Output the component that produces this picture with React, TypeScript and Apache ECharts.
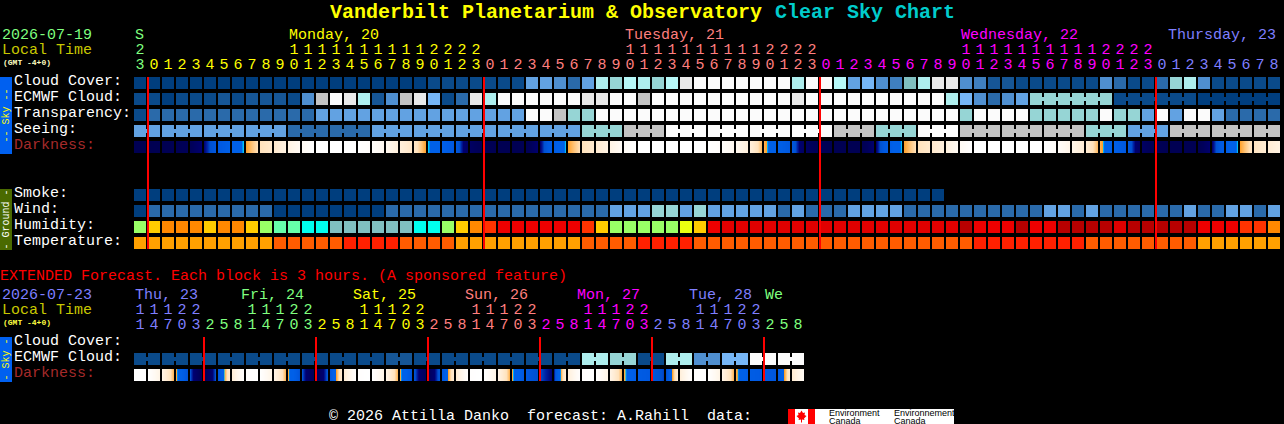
import React, { useEffect, useRef } from "react";
import * as echarts from "echarts";

// ---- Data ----
const mainRows = ["Cloud Cover:", "ECMWF Cloud:", "Transparency:", "Seeing:", "Darkness:", "", "", "Smoke:", "Wind:", "Humidity:", "Temperature:"];
const extendedRows = ["Cloud Cover:", "ECMWF Cloud:", "Darkness:"];

const mainUnits = "3012345678901234567890123012345678901234567890123012345678901234567890123012345678".split("");
const mainTens = "2          11111111112222          11111111112222          11111111112222         ".split("");
const extendedUnits = "147032581470325814703258147032581470325814703258".split("");
const extendedTens = "11122   11122   11122   11122   11122   11122   ".split("");

const mainDayCounts = [1, 24, 24, 24, 9];
const extendedDayCounts = [5, 8, 8, 8, 8, 8, 3];

const mainDayLabels = ["S", "Monday, 20", "Tuesday, 21", "Wednesday, 22", "Thursday, 23"];
const extendedDayLabels = ["Thu, 23", "Fri, 24", "Sat, 25", "Sun, 26", "Mon, 27", "Tue, 28", "We"];

const mainMidnights = [1, 25, 49, 73];
const extendedMidnights = [5, 13, 21, 29, 37, 45];

const cloudCover = [
  0, 0, 0, 0, 0, 0, 0, 0, 0, 0,
  0, 0, 0, 0, 0, 0, 0, 0, 0, 0,
  0, 1, 1, 1, 1, 1, 1, 1, 6, 6,
  5, 3, 6, 9, 10, 8, 9, 10, 8, 13,
  14, 14, 14, 14, 14, 14, 14, 9, 14, 14,
  8, 6, 7, 5, 4, 11, 9, 13, 13, 5,
  4, 2, 2, 1, 1, 1, 1, 1, 1, 5,
  3, 1, 1, 3, 10, 9, 5, 1, 1, 1,
  1, 1,
];
const ecmwfCloud = [
  1, 1, 0, 1, 1, 1, 2, 1, 2, 2,
  2, 1, 5, 12, 14, 13, 9, 2, 5, 12,
  13, 7, 1, 3, 13, 9, 14, 14, 14, 14,
  14, 14, 13, 13, 14, 14, 12, 14, 14, 14,
  14, 14, 14, 14, 14, 14, 14, 13, 14, 14,
  14, 14, 14, 14, 14, 14, 14, 14, 9, 7,
  5, 3, 5, 6, 10, 10, 10, 10, 10, 10,
  1, 1, 1, 1, 1, 1, 0, 0, 0, 0,
  0, 0,
];
const transparency = [
  1, 3, 3, 3, 3, 3, 3, 3, 3, 3,
  3, 3, 3, 6, 6, 6, 6, 6, 6, 6,
  6, 6, 6, 6, 6, 6, 6, 6, 14, 14,
  12, 10, 10, 14, 14, 14, 14, 14, 14, 14,
  14, 14, 14, 14, 14, 14, 14, 14, 14, 14,
  14, 14, 14, 14, 14, 14, 14, 14, 14, 10,
  14, 14, 14, 14, 10, 10, 10, 10, 10, 14,
  10, 10, 6, 14, 6, 14, 14, 6, 3, 3,
  3, 3,
];
const seeing = [
  6, 6, 6, 6, 6, 6, 6, 6, 6, 6,
  6, 3, 3, 3, 3, 3, 3, 6, 6, 6,
  6, 6, 6, 6, 6, 6, 6, 6, 6, 6,
  6, 6, 10, 10, 10, 12, 12, 12, 14, 14,
  14, 14, 14, 14, 14, 14, 14, 14, 14, 14,
  12, 12, 12, 10, 10, 10, 14, 14, 14, 12,
  12, 12, 12, 12, 12, 12, 12, 12, 10, 10,
  10, 6, 6, 6, 12, 12, 12, 12, 12, 12,
  12, 12,
];
const darknessEdges = [
  0.3, 0.2, 0.3, 0.5, 0.8, 2, 3, 4, 5, 6,
  6.7, 7.8, 9, 10, 10, 10, 10, 9.6, 8.6, 7.4,
  6.4, 5, 4, 3, 1.4, 0.6, 0.3, 0.3, 0.4, 1.9,
  3.6, 5, 6, 6.8, 7.9, 9.2, 10, 10, 10, 10,
  10, 10, 9.6, 8.6, 7.4, 5.3, 4, 3, 1.4, 0.6,
  0.3, 0.3, 0.3, 1.9, 3.6, 5, 6, 6.7, 7.5, 9,
  10, 10, 10, 10, 10, 10, 9.4, 8.2, 7, 5.3,
  4, 3, 1.4, 0.6, 0.3, 0.3, 0.3, 1.9, 3.6, 5,
  6.2, 7, 7.8,
];
const smoke = [
  0, 0, 0, 0, 0, 0, 0, 0, 0, 0,
  0, 0, 0, 0, 0, 0, 0, 0, 0, 0,
  0, 0, 0, 0, 0, 0, 0, 0, 0, 0,
  0, 0, 0, 0, 0, 0, 0, 0, 0, 0,
  0, 0, 0, 0, 0, 0, 0, 0, 0, 0,
  0, 0, 0, 0, 0, 0, 0, 0,
];
const wind = [
  0, 3, 3, 3, 3, 3, 3, 3, 3, 3,
  0, 0, 0, 0, 0, 0, 0, 0, 3, 3,
  3, 3, 3, 3, 3, 3, 3, 3, 3, 3,
  3, 3, 3, 3, 6, 6, 6, 10, 10, 6,
  10, 6, 6, 6, 6, 6, 3, 6, 3, 3,
  3, 6, 6, 6, 6, 3, 3, 3, 3, 3,
  3, 3, 3, 3, 3, 6, 6, 3, 6, 3,
  3, 3, 3, 3, 3, 6, 3, 3, 6, 6,
  3, 6,
];
const humidity = [
  0, 1, 2, 2, 2, 1, 2, 2, 1, 0,
  3, 3, 4, 4, 5, 5, 5, 5, 5, 5,
  4, 4, 0, 1, 2, 7, 8, 8, 8, 8,
  8, 8, 7, 1, 0, 0, 0, 0, 0, 6,
  1, 8, 9, 9, 9, 9, 9, 9, 9, 9,
  9, 9, 9, 9, 9, 9, 9, 9, 9, 10,
  8, 8, 8, 10, 8, 8, 10, 10, 10, 10,
  9, 10, 10, 10, 10, 10, 8, 8, 8, 7,
  7, 2,
];
const temperature = [
  0, 0, 0, 0, 0, 0, 0, 0, 0, 0,
  1, 1, 1, 1, 1, 2, 2, 2, 2, 1,
  1, 1, 1, 0, 0, 0, 0, 0, 0, 0,
  0, 0, 1, 1, 1, 1, 2, 2, 2, 2,
  1, 1, 1, 1, 1, 1, 1, 1, 1, 1,
  1, 1, 1, 1, 1, 1, 1, 1, 1, 1,
  2, 2, 2, 2, 2, 2, 2, 2, 1, 1,
  1, 1, 1, 1, 1, 1, 0, 0, 0, 0,
  0, 0,
];
const extendedEcmwf = [
  1, 1, 1, 1, 1, 1, 1, 1, 1, 1,
  1, 1, 1, 1, 1, 1, 1, 1, 2, 2,
  1, 1, 1, 1, 1, 1, 1, 1, 1, 1,
  1, 1, 9, 9, 10, 10, 1, 1, 9, 9,
  5, 5, 7, 7, 14, 14, 14, 14,
];
const extendedDarknessEdges = [
  10, 10, 8, 5.2, 2.6, 0.6, 2.6, 7, 9.8, 10,
  8, 5.2, 2.6, 0.8, 2.7, 7, 9.8, 10, 8, 5.2,
  2.7, 1, 2.8, 7, 9.8, 10, 8, 5.2, 3, 2.5,
  2, 7.3, 9.8, 10, 8, 5.2, 3.5, 3, 2.4, 7.3,
  9.8, 10, 8, 5.2, 3.6, 3.2, 2.9, 6.8, 9,
];

// Blocks joined by a thin bridge: sizes of the consecutive joined runs.
const seeingRuns = [2, 3, 3, 3, 3, 3, 3, 3, 3, 3, 3, 3, 3, 3, 3, 3, 3, 3, 3, 3, 3, 3, 3, 3, 3, 3, 3, 2];
const ecmwfJoinedRuns = [6, 6, 6];
const extendedEcmwfRuns = [2, 2, 2, 2, 2, 2, 2, 2, 2, 2, 2, 2, 2, 2, 2, 2, 2, 2, 2, 2, 2, 2, 2, 2];

// ---- Styles ----
const skyPalette = [
  "#003e7e", "#0a4a8a", "#165696", "#2a6aaa", "#3f7fbf", "#4f8fd0", "#62a2e2", "#76b6f6",
  "#b6f8f8", "#aeeeee", "#96d5d5", "#80c0c0", "#c3c3c3", "#e9e9e9", "#fbfbfb",
];
const humidityPalette = [
  "#99ff66", "#ffcc00", "#ff8800", "#66ffaa", "#00ffee", "#80c0c0",
  "#eaff10", "#ff3300", "#ee0000", "#e00000", "#b80000",
];
const temperaturePalette = ["#ffa000", "#ff5c00", "#ff2000"];
const darknessScale: [number, string][] = [
  [0, "#000050"], [1, "#00005a"], [2, "#000070"], [2.25, "#0020a0"], [2.5, "#0050d0"],
  [3, "#0058e0"], [4, "#0060e8"], [4.8, "#0060e8"], [4.97, "#00d0ff"], [5, "#ffa028"],
  [5.5, "#ffc478"], [6, "#ffe2bc"], [7, "#ffecd4"], [8, "#fff4e6"], [9, "#fffaf4"], [10, "#ffffff"],
];
const GREEN = "#7fff7f", YELLOW = "#ffff00", SALMON = "#ff7f7f", MAGENTA = "#ff00ff", BLUE = "#7f7fff";
const mainDayColors = [GREEN, YELLOW, SALMON, MAGENTA, BLUE];
const extendedDayColors = [BLUE, GREEN, YELLOW, SALMON, MAGENTA, BLUE, GREEN];
const MONO = '"Liberation Mono"';
const BLOCK = 12;

function hexToRgb(h: string) {
  return [parseInt(h.slice(1, 3), 16), parseInt(h.slice(3, 5), 16), parseInt(h.slice(5, 7), 16)];
}
function darknessColor(v: number) {
  let k = 0;
  while (k < darknessScale.length - 2 && v > darknessScale[k + 1][0]) k++;
  const [v0, c0] = darknessScale[k];
  const [v1, c1] = darknessScale[k + 1];
  const t = Math.max(0, Math.min(1, (v - v0) / (v1 - v0)));
  const a = hexToRgb(c0), b = hexToRgb(c1);
  return `rgb(${a.map((x, i) => Math.round(x + (b[i] - x) * t)).join(",")})`;
}
function runsToJoins(runs: number[], start = 0) {
  const joins = new Set<number>();
  let at = start;
  runs.forEach((r) => {
    for (let i = 0; i < r - 1; i++) joins.add(at + i);
    at += r;
  });
  return joins;
}
function blockSeries(xAxisIndex: number, yAxisIndex: number, row: number, values: number[], palette: string[], joins?: Set<number>) {
  return {
    type: "custom",
    xAxisIndex,
    yAxisIndex,
    encode: { x: 0, y: 1 },
    silent: true,
    data: values.map((v, i) => [i, row, v, joins && joins.has(i) ? 1 : 0]),
    renderItem: (_p: any, api: any) => {
      const [cx, cy] = api.coord([api.value(0), api.value(1)]);
      const [bw] = api.size([1, 1]);
      const x = Math.round(cx - BLOCK / 2);
      const y = Math.round(cy - BLOCK / 2);
      const fill = palette[api.value(2)];
      const children: any[] = [{ type: "rect", shape: { x, y, width: BLOCK, height: BLOCK }, style: { fill } }];
      if (api.value(3)) {
        children.push({ type: "rect", shape: { x: x + BLOCK, y: y + 4, width: bw - BLOCK, height: 4 }, style: { fill } });
      }
      return { type: "group", children };
    },
  };
}
function darknessSeries(xAxisIndex: number, yAxisIndex: number, row: number, edges: number[]) {
  return {
    type: "custom",
    xAxisIndex,
    yAxisIndex,
    encode: { x: 0, y: 1 },
    silent: true,
    data: edges.slice(0, -1).map((v, i) => [i, row, v, edges[i + 1]]),
    renderItem: (_p: any, api: any) => {
      const [cx, cy] = api.coord([api.value(0), api.value(1)]);
      const from = api.value(2), to = api.value(3);
      const stops: any[] = [];
      const n = 24;
      for (let k = 0; k <= n; k++) {
        const t = k / n;
        stops.push({ offset: t, color: darknessColor(from + (to - from) * (0.005 + 0.99 * t)) });
      }
      return {
        type: "rect",
        shape: { x: Math.round(cx - BLOCK / 2), y: Math.round(cy - BLOCK / 2), width: BLOCK, height: BLOCK },
        style: { fill: new echarts.graphic.LinearGradient(0, 0, 1, 0, stops) },
      };
    },
  };
}
function midnightSeries(xAxisIndex: number, yAxisIndex: number, hours: number[], lastRow: number) {
  return {
    type: "custom",
    xAxisIndex,
    yAxisIndex,
    encode: { x: 0, y: 1 },
    silent: true,
    z: 5,
    data: hours.map((h) => [h, 0]),
    renderItem: (_p: any, api: any) => {
      const [cx, top] = api.coord([api.value(0), 0]);
      const bottom = api.coord([api.value(0), lastRow])[1];
      const [bw] = api.size([1, 1]);
      return {
        type: "rect",
        shape: { x: Math.round(cx - bw / 2), y: Math.round(top - BLOCK / 2), width: 2, height: bottom - top + BLOCK },
        style: { fill: "#ff0000" },
      };
    },
  };
}
function coloured(labels: string[], counts: number[], colors: string[]) {
  const out: any[] = [];
  counts.forEach((c, d) => {
    for (let i = 0; i < c; i++) {
      const at = out.length;
      out.push({ value: labels[at], textStyle: { color: colors[d], verticalAlign: "middle" } });
    }
  });
  return out;
}
function hourAxis(gridIndex: number, labels: string[], counts: number[], colors: string[], margin: number) {
  return {
    type: "category",
    gridIndex,
    position: "top",
    offset: 0,
    data: coloured(labels, counts, colors),
    axisLine: { show: false },
    axisTick: { show: false },
    splitLine: { show: false },
    axisLabel: { show: true, interval: 0, margin, verticalAlign: "middle", fontFamily: MONO, fontSize: 15 },
  };
}
function rowAxis(gridIndex: number, rows: string[]) {
  return {
    type: "category",
    gridIndex,
    inverse: true,
    data: rows.map((r) => ({
      value: r,
      textStyle: { color: r === "Darkness:" ? "#a52a2a" : "#ffffff", align: "left", verticalAlign: "bottom", lineHeight: 4 },
    })),
    axisLine: { show: false },
    axisTick: { show: false },
    splitLine: { show: false },
    axisLabel: { show: true, interval: 0, margin: 119, align: "left", verticalAlign: "bottom", lineHeight: 4, fontFamily: MONO, fontSize: 15 },
  };
}
function txt(x: number, y: number, text: string, fill: string, font = `15px ${MONO}`) {
  return { type: "text", x, y, silent: true, style: { text, fill, font, verticalAlign: "middle" } };
}
function sideBar(y: number, height: number, fill: string, text: string, textFill: string) {
  return [
    { type: "rect", silent: true, shape: { x: 0, y, width: 12, height }, style: { fill } },
    {
      type: "text", silent: true, x: 6, y: y + height / 2, rotation: Math.PI / 2,
      style: { text, fill: textFill, font: `10px ${MONO}`, align: "center", verticalAlign: "middle" },
    },
  ];
}

const mainDayX = [135, 289, 625, 961, 1168];
const extendedDayX = [135, 241, 353, 465, 577, 689, 765];

function buildOption() {
  const seeingJoins = runsToJoins(seeingRuns);
  const ecmwfJoins = runsToJoins(ecmwfJoinedRuns, 64);
  const extJoins = runsToJoins(extendedEcmwfRuns);
  return {
    animation: false,
    backgroundColor: "#000000",
    tooltip: { show: false },
    grid: [
      { left: 133, top: 75, width: 1148, height: 176, containLabel: false, outerBoundsMode: "none" },
      { left: 133, top: 335, width: 672, height: 48, containLabel: false, outerBoundsMode: "none" },
    ],
    xAxis: [
      hourAxis(0, mainUnits, mainDayCounts, mainDayColors, 10),
      hourAxis(0, mainTens, mainDayCounts, mainDayColors, 25),
      hourAxis(1, extendedUnits, extendedDayCounts, extendedDayColors, 10),
      hourAxis(1, extendedTens, extendedDayCounts, extendedDayColors, 25),
    ],
    yAxis: [rowAxis(0, mainRows), rowAxis(1, extendedRows)],
    series: [
      blockSeries(0, 0, 0, cloudCover, skyPalette),
      blockSeries(0, 0, 1, ecmwfCloud, skyPalette, ecmwfJoins),
      blockSeries(0, 0, 2, transparency, skyPalette),
      blockSeries(0, 0, 3, seeing, skyPalette, seeingJoins),
      darknessSeries(0, 0, 4, darknessEdges),
      blockSeries(0, 0, 7, smoke, skyPalette),
      blockSeries(0, 0, 8, wind, skyPalette),
      blockSeries(0, 0, 9, humidity, humidityPalette),
      blockSeries(0, 0, 10, temperature, temperaturePalette),
      midnightSeries(0, 0, mainMidnights, 10),
      blockSeries(2, 1, 1, extendedEcmwf, skyPalette, extJoins),
      darknessSeries(2, 1, 2, extendedDarknessEdges),
      midnightSeries(2, 1, extendedMidnights, 2),
    ],
    graphic: {
      elements: [
        txt(330, 12, "Vanderbilt Planetarium & Observatory", "#ffff00", `bold 20px ${MONO}`),
        txt(775, 12, "Clear Sky Chart", "#00cccc", `bold 20px ${MONO}`),
        txt(2, 35, "2026-07-19", GREEN),
        txt(2, 50, "Local Time", "#c8c800"),
        txt(3, 62, "(GMT -4+0)", "#ffffc0", `bold 8px ${MONO}`),
        ...mainDayLabels.map((d, i) => txt(mainDayX[i], 35, d, mainDayColors[i])),
        txt(0, 276, "EXTENDED Forecast. Each block is 3 hours. (A sponsored feature)", "#ff0000"),
        txt(2, 295, "2026-07-23", BLUE),
        txt(2, 310, "Local Time", "#c8c800"),
        txt(3, 322, "(GMT -4+0)", "#ffff40", `bold 8px ${MONO}`),
        ...extendedDayLabels.map((d, i) => txt(extendedDayX[i], 295, d, extendedDayColors[i])),
        ...sideBar(77, 77, "#0060f0", "-- Sky --", "#ffff00"),
        ...sideBar(189, 61, "#4a6a00", "- Ground -", "#ffffff"),
        ...sideBar(337, 45, "#0060f0", "- Sky -", "#ffff00"),
        txt(329, 416, "\u00a9 2026 Attilla Danko", "#ffffff"),
        txt(527, 416, "forecast: A.Rahill", "#ffffff"),
        txt(707, 416, "data:", "#ffffff"),
        { type: "rect", silent: true, shape: { x: 788, y: 409, width: 166, height: 15 }, style: { fill: "#ffffff" } },
        { type: "rect", silent: true, shape: { x: 788, y: 409, width: 7, height: 15 }, style: { fill: "#ff0000" } },
        { type: "rect", silent: true, shape: { x: 808, y: 409, width: 7, height: 15 }, style: { fill: "#ff0000" } },
        {
          type: "polygon", silent: true,
          shape: { points: [[801.5, 410.5], [803, 413], [805, 412.5], [804.5, 415], [806.5, 416], [804, 418.5], [804.5, 420], [802, 419.5], [802, 422.5], [801, 422.5], [801, 419.5], [798.5, 420], [799, 418.5], [796.5, 416], [798.5, 415], [798, 412.5], [800, 413]] },
          style: { fill: "#ff0000" },
        },
        { type: "text", silent: true, x: 829, y: 413, style: { text: "Environment", fill: "#000000", font: '9px "Liberation Sans"', verticalAlign: "middle" } },
        { type: "text", silent: true, x: 829, y: 420.5, style: { text: "Canada", fill: "#000000", font: '9px "Liberation Sans"', verticalAlign: "middle" } },
        { type: "text", silent: true, x: 894, y: 413, style: { text: "Environnement", fill: "#000000", font: '9px "Liberation Sans"', verticalAlign: "middle" } },
        { type: "text", silent: true, x: 894, y: 420.5, style: { text: "Canada", fill: "#000000", font: '9px "Liberation Sans"', verticalAlign: "middle" } },
      ],
    },
  };
}

export default function App() {
  const ref = useRef<HTMLDivElement>(null);
  useEffect(() => {
    document.body.style.margin = "0";
    document.body.style.background = "#000";
    const chart = echarts.init(ref.current!, undefined, { renderer: "svg" });
    chart.setOption(buildOption() as any);
    return () => chart.dispose();
  }, []);
  return <div ref={ref} style={{ width: 1284, height: 424 }} />;
}
